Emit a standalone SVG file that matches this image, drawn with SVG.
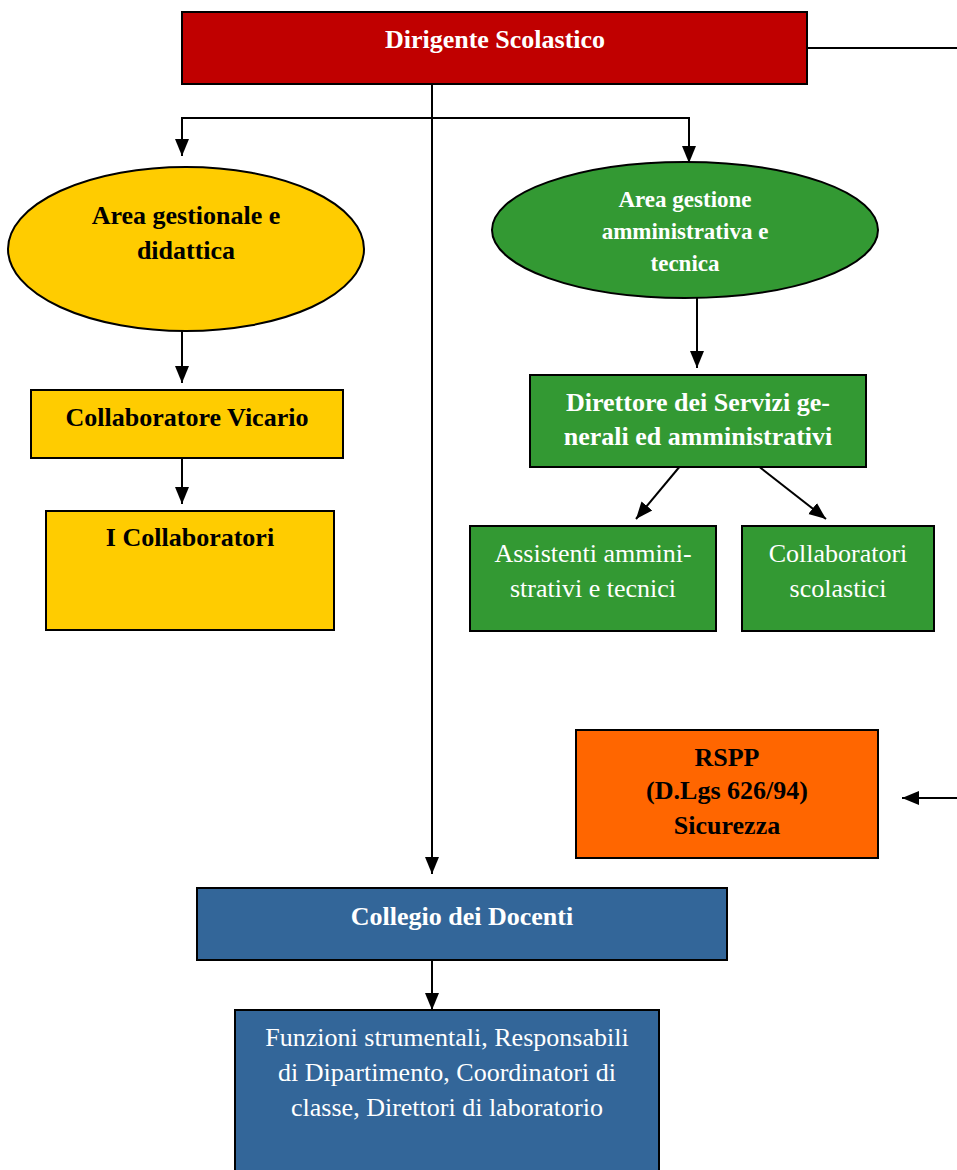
<svg xmlns="http://www.w3.org/2000/svg" width="957" height="1170" viewBox="0 0 957 1170">
<style>
.box{stroke:#000;stroke-width:2}
.t{font-family:"Liberation Serif","Times New Roman",serif;font-size:26px;text-anchor:middle}
.b{font-weight:bold}
.w{fill:#fff}
.k{fill:#000}
.c{stroke:#000;stroke-width:2;fill:none}
</style>
<defs>
<marker id="ah" markerUnits="userSpaceOnUse" markerWidth="18" markerHeight="18" viewBox="0 0 18 18" refX="17" refY="9" orient="auto">
<path d="M0,2 L17,9 L0,16 Z" fill="#000"/>
</marker>
</defs>
<g id="connectors">
<line class="c" x1="807" y1="48" x2="957" y2="48"/>
<line class="c" x1="432" y1="84" x2="432" y2="874" marker-end="url(#ah)"/>
<polyline class="c" points="182,145 182,118 689,118 689,150"/>
<line class="c" x1="182" y1="140" x2="182" y2="156" marker-end="url(#ah)"/>
<line class="c" x1="689" y1="140" x2="689" y2="163" marker-end="url(#ah)"/>
<line class="c" x1="182" y1="328" x2="182" y2="383" marker-end="url(#ah)"/>
<line class="c" x1="182" y1="458" x2="182" y2="504" marker-end="url(#ah)"/>
<line class="c" x1="697" y1="298" x2="697" y2="368" marker-end="url(#ah)"/>
<line class="c" x1="681" y1="465" x2="636" y2="519" marker-end="url(#ah)"/>
<line class="c" x1="757" y1="465" x2="826" y2="519" marker-end="url(#ah)"/>
<line class="c" x1="957" y1="798" x2="902" y2="798" marker-end="url(#ah)"/>
<line class="c" x1="432" y1="955" x2="432" y2="1010" marker-end="url(#ah)"/>
</g>
<g id="dirigente">
<rect class="box" x="182" y="12" width="625" height="72" fill="#C00000"/>
<text class="t b w" x="495" y="48">Dirigente Scolastico</text>
</g>
<g id="area-gestionale">
<ellipse class="box" cx="186" cy="249" rx="178" ry="82" fill="#FFCC00"/>
<text class="t b k" x="186" y="224">Area gestionale e</text>
<text class="t b k" x="186" y="259">didattica</text>
</g>
<g id="area-amministrativa">
<ellipse class="box" cx="685" cy="230" rx="193" ry="68" fill="#339933"/>
<text class="t b w" x="685" y="207" style="font-size:23px">Area gestione</text>
<text class="t b w" x="685" y="239" style="font-size:23px">amministrativa e</text>
<text class="t b w" x="685" y="271" style="font-size:23px">tecnica</text>
</g>
<g id="vicario">
<rect class="box" x="31" y="390" width="312" height="68" fill="#FFCC00"/>
<text class="t b k" x="187" y="426">Collaboratore Vicario</text>
</g>
<g id="collaboratori">
<rect class="box" x="46" y="511" width="288" height="119" fill="#FFCC00"/>
<text class="t b k" x="190" y="546">I Collaboratori</text>
</g>
<g id="direttore">
<rect class="box" x="530" y="375" width="336" height="92" fill="#339933"/>
<text class="t b w" x="698" y="411">Direttore dei Servizi ge-</text>
<text class="t b w" x="698" y="445">nerali ed amministrativi</text>
</g>
<g id="assistenti">
<rect class="box" x="470" y="526" width="246" height="105" fill="#339933"/>
<text class="t w" x="593" y="562">Assistenti ammini-</text>
<text class="t w" x="593" y="597">strativi e tecnici</text>
</g>
<g id="collab-scolastici">
<rect class="box" x="742" y="526" width="192" height="105" fill="#339933"/>
<text class="t w" x="838" y="562">Collaboratori</text>
<text class="t w" x="838" y="597">scolastici</text>
</g>
<g id="rspp">
<rect class="box" x="576" y="730" width="302" height="128" fill="#FF6600"/>
<text class="t b k" x="727" y="766">RSPP</text>
<text class="t b k" x="727" y="799">(D.Lgs 626/94)</text>
<text class="t b k" x="727" y="834">Sicurezza</text>
</g>
<g id="collegio">
<rect class="box" x="197" y="888" width="530" height="72" fill="#336699"/>
<text class="t b w" x="462" y="925">Collegio dei Docenti</text>
</g>
<g id="funzioni">
<rect class="box" x="235" y="1010" width="424" height="175" fill="#336699"/>
<text class="t w" x="447" y="1046">Funzioni strumentali, Responsabili</text>
<text class="t w" x="447" y="1081">di Dipartimento, Coordinatori di</text>
<text class="t w" x="447" y="1116">classe, Direttori di laboratorio</text>
</g>
</svg>
